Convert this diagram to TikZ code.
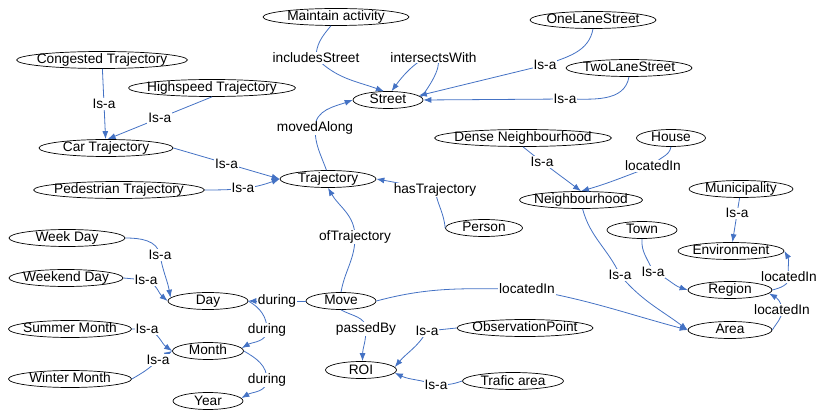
\documentclass[tikz,border=0pt]{standalone}
\usepackage{fontspec}
\setmainfont{Liberation Sans}
\usetikzlibrary{shapes.geometric,arrows.meta}
\definecolor{linkblue}{RGB}{68,114,196}
\begin{document}
\begin{tikzpicture}[x=1pt,y=1pt,
        concept/.style={ellipse,draw=black,line width=0.7pt,inner sep=0pt,minimum height=17pt,minimum width=#1,
            text height=9pt,text depth=1pt,font=\fontsize{13.7}{16}\selectfont,
            execute at begin node={\hbox to 0pt\bgroup\hss},execute at end node={\hss\egroup}},
        link/.style={draw=linkblue,line width=0.8pt,-{Latex[length=8pt,width=6pt]}},
        lbl/.style={fill=white,inner sep=1pt,font=\fontsize{13.7}{16}\selectfont}]
        \useasboundingbox (0,0) rectangle (819,-411);
        \node[concept=146] (maint) at (336,-17) {Maintain activity};
        \node[concept=70] (street) at (388,-100) {Street};
        \node[concept=126] (onelane) at (593,-20) {OneLaneStreet};
        \node[concept=126] (twolane) at (629,-68) {TwoLaneStreet};
        \node[concept=171] (congested) at (102,-60) {Congested Trajectory};
        \node[concept=167] (highspeed) at (212,-88) {Highspeed Trajectory};
        \node[concept=134] (car) at (106,-148) {Car Trajectory};
        \node[concept=171] (pedestrian) at (119,-190) {Pedestrian Trajectory};
        \node[concept=96] (traj) at (328,-179) {Trajectory};
        \node[concept=177] (dense) at (523,-138) {Dense Neighbourhood};
        \node[concept=69] (house) at (671,-138) {House};
        \node[concept=123] (neigh) at (581,-200) {Neighbourhood};
        \node[concept=104] (munic) at (741,-189) {Municipality};
        \node[concept=77] (person) at (484,-228) {Person};
        \node[concept=70] (town) at (642,-230) {Town};
        \node[concept=106] (env) at (731,-251) {Environment};
        \node[concept=84] (region) at (730,-290) {Region};
        \node[concept=84] (area) at (730,-330) {Area};
        \node[concept=136] (obs) at (525,-328) {ObservationPoint};
        \node[concept=101] (trafic) at (513,-381) {Trafic area};
        \node[concept=116] (weekday) at (67,-238) {Week Day};
        \node[concept=114] (weekend) at (66,-278) {Weekend Day};
        \node[concept=80] (day) at (208,-301) {Day};
        \node[concept=70] (move) at (341,-301) {Move};
        \node[concept=123] (summer) at (70,-329) {Summer Month};
        \node[concept=71] (month) at (208,-351) {Month};
        \node[concept=123] (winter) at (70,-379) {Winter Month};
        \node[concept=71] (roi) at (361,-370) {ROI};
        \node[concept=70] (year) at (208,-401) {Year};
        \draw[link] (maint.240) to[out=-130,in=90] (316,-58) node[lbl] {includesStreet} to[out=-45,in=160] (street.115);
        \draw[link] (street.5) .. controls (460,-45) and (425,-45) .. node[lbl] {intersectsWith} (street.68);
        \draw[link] (onelane.south) to[out=-100,in=20] (545,-65) node[lbl] {Is-a} -- (street.8);
        \draw[link] (twolane.south) to[out=-100,in=0] (565,-99) node[lbl] {Is-a} -- (street.east);
        \draw[link] (congested) -- node[lbl] {Is-a} (car);
        \draw[link] (highspeed.south) -- node[lbl] {Is-a} (car.80);
        \draw[link] (car.east) -- node[lbl] {Is-a} (traj.west);
        \draw[link] (pedestrian.east) to[out=0,in=200] node[lbl] {Is-a} (traj.west);
        \draw[link] (traj.100) to[out=110,in=-90] (315,-128) node[lbl] {movedAlong} to[out=90,in=200] (street.west);
        \draw[link] (person.west) to[out=95,in=-80] (435,-190) node[lbl] {hasTrajectory} to[out=170,in=-10] (traj.east);
        \draw[link] (move.north) to[out=80,in=-90] (355,-237) node[lbl] {ofTrajectory} to[out=90,in=-60] (traj.south);
        \draw[link] (move.west) -- node[lbl] {during} (day.east);
        \draw[link] (day.east) to[out=-30,in=90] (267,-330) node[lbl] {during} to[out=-90,in=30] (month.5);
        \draw[link] (month.east) to[out=-30,in=90] (267,-380) node[lbl] {during} to[out=-90,in=30] (year.5);
        \draw[link] (weekday.east) to[out=0,in=100] (160,-255) node[lbl] {Is-a} to[out=-80,in=100] (day.175);
        \draw[link] (weekend.east) -- (146,-280) node[lbl] {Is-a} to[out=-20,in=140] (day.west);
        \draw[link] (summer.east) -- (147,-329) node[lbl] {Is-a} to[out=-20,in=145] (month.west);
        \draw[link] (winter.east) to[out=30,in=-135] (158,-360) node[lbl] {Is-a} -- (month.west);
        \draw[link] (move.south) to[out=-30,in=90] (366,-329) node[lbl] {passedBy} to[out=-90,in=90] (roi.80);
        \draw[link] (obs.west) -- (427,-331) node[lbl] {Is-a} to[out=-120,in=50] (roi.5);
        \draw[link] (trafic.west) to[out=200,in=0] (436,-385) node[lbl] {Is-a} to[out=160,in=-25] (roi.-5);
        \draw[link] (move.east) to[out=15,in=180] (527,-289) node[lbl] {locatedIn} to[out=-10,in=165] (area.west);
        \draw[link] (dense.south) -- (542,-162) node[lbl] {Is-a} -- (neigh.north);
        \draw[link] (house.south) to[out=-100,in=60] (653,-166) node[lbl] {locatedIn} to[out=200,in=16] (neigh.north);
        \draw[link] (neigh.-80) to[out=-75,in=115] (620,-275) node[lbl] {Is-a} to[out=-50,in=143] (area.west);
        \draw[link] (town.south) to[out=-95,in=110] (653,-272) node[lbl] {Is-a} to[out=-20,in=162] (region.west);
        \draw[link] (munic) -- node[lbl,pos=0.35] {Is-a} (env);
        \draw[link] (region.east) to[out=15,in=-90] (789,-277) node[lbl] {locatedIn} to[out=100,in=-60] (env.east);
        \draw[link] (area.east) to[out=60,in=-90] (782,-310) node[lbl] {locatedIn} to[out=90,in=-30] (region.-5);
    \end{tikzpicture}
\end{document}
